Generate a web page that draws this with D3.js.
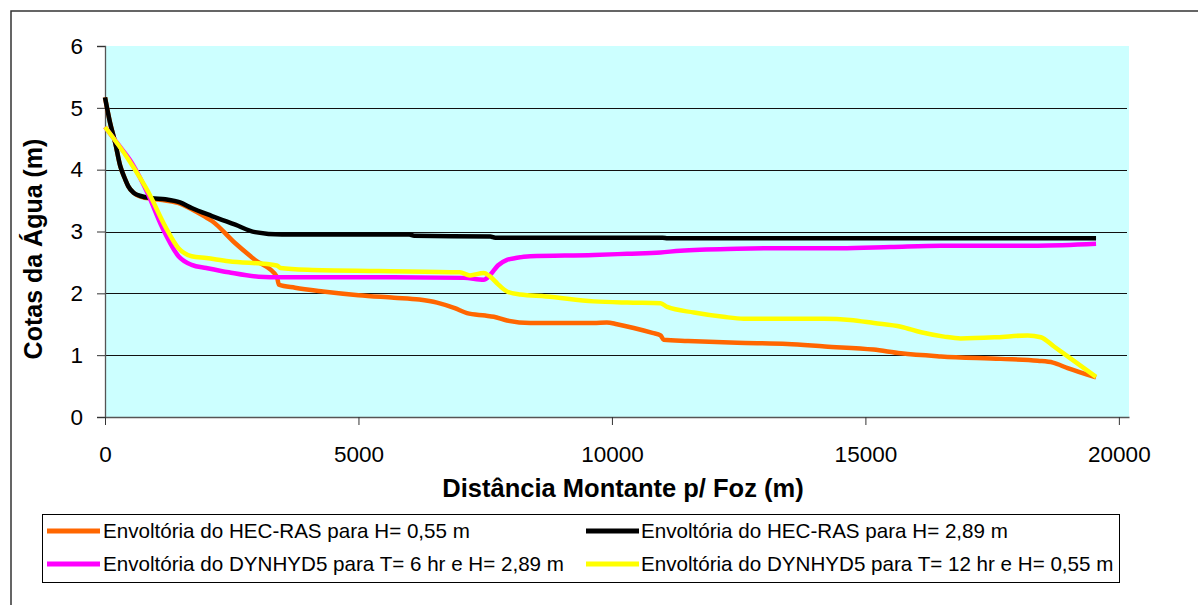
<!DOCTYPE html>
<html>
<head>
<meta charset="utf-8">
<script src="https://cdn.jsdelivr.net/npm/d3@7/dist/d3.min.js"></script>
<style>
  html, body { margin: 0; padding: 0; background: #fff; }
  svg { display: block; font-family: "Liberation Sans", Arial, sans-serif; }
</style>
</head>
<body>
<svg id="chart" width="1198" height="605"></svg>
<script>
// ---- data ----
const xTicks = [0, 5000, 10000, 15000, 20000];
const yTicks = [0, 1, 2, 3, 4, 5, 6];

const seriesNames = [
  "Envoltória do HEC-RAS para H= 0,55 m",
  "Envoltória do HEC-RAS para H= 2,89 m",
  "Envoltória do DYNHYD5 para T= 6 hr e H= 2,89 m",
  "Envoltória do DYNHYD5 para T= 12 hr e H= 0,55 m"
];
const seriesColors = ["#FF6600", "#000000", "#FF00FF", "#FFFF00"];

const distOrange = [0, 100, 200, 300, 400, 460, 560, 720, 920, 1190, 1480, 1710, 1970, 2110, 2570, 2960, 3390, 3430, 3750, 4300, 5000, 5700, 6200, 6550, 6900, 7140, 7500, 7670, 7930, 8390, 9640, 9900, 10100, 10430, 10800, 10960, 11020, 11500, 12470, 13460, 14200, 15160, 15700, 16490, 17670, 18400, 18700, 18990, 19550];
const cotaOrange = [5.17, 4.76, 4.44, 4.06, 3.84, 3.73, 3.63, 3.56, 3.53, 3.50, 3.45, 3.36, 3.24, 3.17, 2.81, 2.54, 2.27, 2.14, 2.09, 2.03, 1.97, 1.93, 1.90, 1.85, 1.76, 1.68, 1.64, 1.62, 1.56, 1.52, 1.52, 1.53, 1.50, 1.44, 1.36, 1.32, 1.25, 1.23, 1.20, 1.18, 1.14, 1.09, 1.03, 0.98, 0.94, 0.91, 0.88, 0.79, 0.64];

const distBlack = [0, 100, 200, 300, 400, 460, 560, 720, 920, 1190, 1480, 1710, 2110, 2570, 2960, 3490, 6000, 6100, 7600, 7700, 11000, 11100, 19550];
const cotaBlack = [5.17, 4.76, 4.44, 4.06, 3.84, 3.73, 3.63, 3.57, 3.54, 3.52, 3.47, 3.38, 3.25, 3.11, 2.99, 2.95, 2.95, 2.93, 2.92, 2.90, 2.90, 2.89, 2.89];

const distMagenta = [0, 250, 530, 850, 1120, 1450, 1710, 2000, 2440, 3030, 3500, 5700, 7080, 7470, 7600, 7750, 7930, 8100, 8390, 9640, 10300, 10960, 11350, 12470, 13460, 14510, 15500, 16490, 18400, 19550];
const cotaMagenta = [4.69, 4.42, 4.11, 3.60, 3.08, 2.60, 2.46, 2.41, 2.34, 2.27, 2.26, 2.26, 2.25, 2.22, 2.30, 2.45, 2.54, 2.57, 2.60, 2.62, 2.64, 2.66, 2.69, 2.72, 2.73, 2.73, 2.75, 2.77, 2.77, 2.80];

const distYellow = [0, 460, 860, 1190, 1450, 1710, 2000, 2440, 3390, 3460, 4000, 5400, 7000, 7200, 7470, 7600, 7750, 7930, 8190, 8700, 9640, 10300, 10960, 11090, 11620, 12200, 12600, 14180, 14700, 15170, 15700, 16100, 16550, 16880, 17600, 18200, 18460, 18720, 18990, 19550];
const cotaYellow = [4.69, 4.17, 3.63, 3.08, 2.73, 2.60, 2.57, 2.52, 2.45, 2.41, 2.38, 2.36, 2.34, 2.29, 2.33, 2.27, 2.15, 2.03, 1.98, 1.95, 1.87, 1.85, 1.84, 1.78, 1.69, 1.62, 1.59, 1.59, 1.57, 1.52, 1.46, 1.37, 1.30, 1.27, 1.29, 1.32, 1.29, 1.14, 0.98, 0.65];

const xTitle = "Distância Montante p/ Foz (m)";
const yTitle = "Cotas da Água (m)";

// ---- layout ----
const svg = d3.select("#chart");
const plot = { left: 105, right: 1129, top: 46, bottom: 417 };

const x = d3.scaleLinear().domain([0, 20200]).range([plot.left, plot.right]);
const y = d3.scaleLinear().domain([0, 6]).range([plot.bottom, plot.top]);

// outer chart border (extends past picture on right/bottom)
svg.append("rect")
  .attr("x", 11).attr("y", 11).attr("width", 1300).attr("height", 700)
  .attr("fill", "#fff").attr("stroke", "#333").attr("stroke-width", 1.5);

// plot area
svg.append("rect")
  .attr("x", plot.left).attr("y", plot.top)
  .attr("width", plot.right - plot.left).attr("height", plot.bottom - plot.top)
  .attr("fill", "#CCFFFF");

// gridlines
svg.append("g").selectAll("line")
  .data(yTicks.filter(d => d > 0 && d < 6))
  .join("line")
  .attr("x1", plot.left).attr("x2", plot.right - 2)
  .attr("y1", d => Math.round(y(d)) + 0.5).attr("y2", d => Math.round(y(d)) + 0.5)
  .attr("stroke", "#111").attr("stroke-width", 1);

// axes
const yAxis = d3.axisLeft(y).tickValues(yTicks).tickSize(8).tickPadding(14).tickFormat(d3.format("d"));
const gy = svg.append("g").attr("transform", `translate(${plot.left},0)`).call(yAxis);
gy.select(".domain").attr("stroke", "#555").attr("stroke-width", 1.3);
gy.selectAll(".tick line").attr("stroke", "#333");
gy.selectAll(".tick text").attr("font-size", 22.5).attr("fill", "#000")
  .attr("font-family", "Liberation Sans, Arial, sans-serif");

const xAxis = d3.axisBottom(x).tickValues(xTicks).tickSize(8).tickSizeOuter(0).tickPadding(21).tickFormat(d3.format("d"));
const gx = svg.append("g").attr("transform", `translate(0,${plot.bottom})`).call(xAxis);
gx.select(".domain").attr("stroke", "#555").attr("stroke-width", 1.3);
gx.selectAll(".tick line").attr("stroke", "#333");
gx.selectAll(".tick text").attr("font-size", 22.5).attr("fill", "#000")
  .attr("font-family", "Liberation Sans, Arial, sans-serif");

// axis titles
svg.append("text")
  .attr("x", 623).attr("y", 497)
  .attr("text-anchor", "middle")
  .attr("font-size", 25.5).attr("font-weight", "bold")
  .text(xTitle);

svg.append("text")
  .attr("transform", "translate(42,249) rotate(-90)")
  .attr("text-anchor", "middle")
  .attr("font-size", 25).attr("font-weight", "bold")
  .text(yTitle);

// series
const series = [
  { xs: distOrange, ys: cotaOrange },
  { xs: distBlack, ys: cotaBlack },
  { xs: distMagenta, ys: cotaMagenta },
  { xs: distYellow, ys: cotaYellow }
];
const line = d3.line().x(d => x(d[0])).y(d => y(d[1])).curve(d3.curveMonotoneX);
series.forEach((s, i) => {
  const pts = s.xs.map((v, k) => [v, s.ys[k]]);
  svg.append("path")
    .datum(pts)
    .attr("d", line)
    .attr("fill", "none")
    .attr("stroke", seriesColors[i])
    .attr("stroke-width", 4.5)
    .attr("stroke-linejoin", "round")
    .attr("stroke-linecap", "butt");
});

// legend
const leg = { x: 42, y: 514.5, w: 1077, h: 68 };
svg.append("rect")
  .attr("x", leg.x + 0.5).attr("y", leg.y).attr("width", leg.w).attr("height", leg.h)
  .attr("fill", "#fff").attr("stroke", "#000").attr("stroke-width", 1);

const legPos = [
  { sx: 47, tx: 103, cy: 531 },
  { sx: 586, tx: 641, cy: 531 },
  { sx: 47, tx: 103, cy: 564 },
  { sx: 586, tx: 641, cy: 564 }
];
legPos.forEach((p, i) => {
  svg.append("line")
    .attr("x1", p.sx).attr("x2", p.sx + 53)
    .attr("y1", p.cy).attr("y2", p.cy)
    .attr("stroke", seriesColors[i]).attr("stroke-width", 5);
  svg.append("text")
    .attr("x", p.tx).attr("y", p.cy + 7)
    .attr("font-size", 20.6)
    .text(seriesNames[i]);
});
</script>
</body>
</html>
